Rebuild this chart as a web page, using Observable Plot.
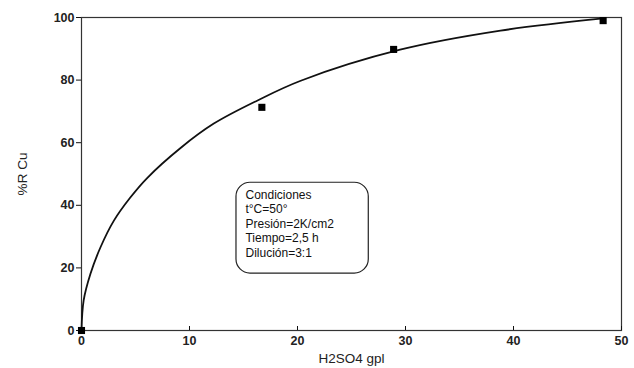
<!DOCTYPE html>
<html>
<head>
<meta charset="utf-8">
<script src="https://cdn.jsdelivr.net/npm/d3@7"></script>
<script src="https://cdn.jsdelivr.net/npm/@observablehq/plot@0.6"></script>
<style>
  html, body { margin: 0; padding: 0; background: #fff; }
  #chart { width: 634px; height: 368px; }
</style>
</head>
<body>
<div id="chart"></div>
<script>
// Measured points (H2SO4 gpl vs %R Cu)
const pointX = [0, 16.7, 28.9, 48.3];
const pointY = [0, 71.3, 89.8, 99.0];

// Fitted curve
const curveX = [0, 0.2, 0.83, 1.76, 3.0, 4.5, 6.1, 9.2, 12.25, 16.3, 20.3, 29.5, 38.8, 48.3];
const curveY = [0, 9.6, 18.1, 26.6, 35.1, 42.4, 48.8, 58.4, 66.1, 73.5, 79.8, 89.7, 95.8, 99.7];

// Tick values
const xTicks = [0, 10, 20, 30, 40, 50];
const yTicks = [0, 20, 40, 60, 80, 100];

// Axis titles
const xTitle = "H2SO4 gpl";
const yTitle = "%R Cu";

// Annotation box (data coordinates) and its lines
const boxX = [14.35, 26.6];
const boxY = [18.2, 47.2];
const noteLines = ["Condiciones", "t°C=50°", "Presión=2K/cm2", "Tiempo=2,5 h", "Dilución=3:1"];

const points = pointX.map((x, i) => ({x, y: pointY[i]}));
const curve = curveX.map((x, i) => ({x, y: curveY[i]}));

const font = "'Liberation Sans', Arial, sans-serif";

const chart = Plot.plot({
  width: 634,
  height: 368,
  marginLeft: 81,
  marginRight: 13,
  marginTop: 17,
  marginBottom: 38,
  style: {fontFamily: font, fontSize: "12.5px", color: "#111", background: "#fff"},
  x: {domain: [0, 50]},
  y: {domain: [0, 100]},
  marks: [
    Plot.frame({stroke: "#333", strokeWidth: 1.2}),
    Plot.axisX({ticks: xTicks, tickSize: -4, tickPadding: 10, label: null, fontWeight: "bold", fill: "#222"}),
    Plot.axisX({ticks: [], label: xTitle, labelAnchor: "center", labelArrow: "none", labelOffset: 32, fontSize: 13.5, fill: "#222"}),
    Plot.axisY({ticks: yTicks, tickSize: 5, tickPadding: 2, label: null, fontWeight: "bold", fill: "#222"}),
    Plot.axisY({ticks: [], label: yTitle, labelAnchor: "center", labelArrow: "none", labelOffset: 64, fontSize: 13.5, fill: "#222"}),
    Plot.line(curve, {x: "x", y: "y", curve: "catmull-rom", stroke: "#111", strokeWidth: 1.8}),
    Plot.dot(points, {x: "x", y: "y", symbol: "square", r: 4, fill: "#000", stroke: "none"}),
    Plot.rect([{x1: boxX[0], x2: boxX[1], y1: boxY[0], y2: boxY[1]}], {x1: "x1", x2: "x2", y1: "y1", y2: "y2", rx: 14, fill: "none", stroke: "#222", strokeWidth: 1.2}),
    Plot.text([noteLines.join("\n")], {x: boxX[0], y: boxY[1], text: d => d, textAnchor: "start", lineAnchor: "top", dx: 9, dy: 6, lineHeight: 1.2, fontSize: 12, fill: "#111"})
  ]
});
document.getElementById("chart").appendChild(chart);
</script>
</body>
</html>
